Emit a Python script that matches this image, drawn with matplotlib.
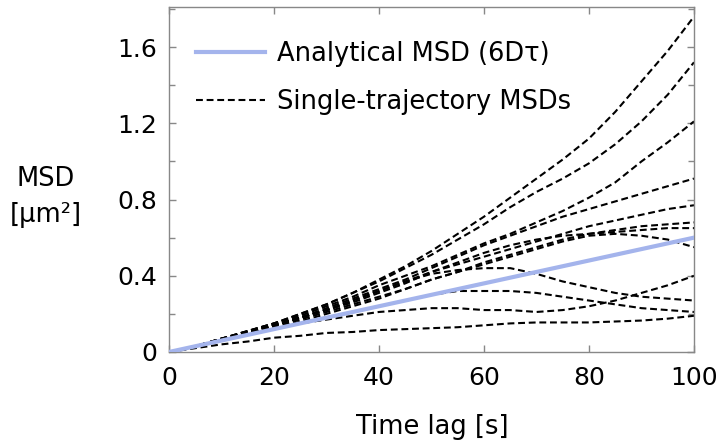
import matplotlib
matplotlib.use("Agg")
import matplotlib.pyplot as plt
from matplotlib.ticker import MultipleLocator

# time lag axis shared by every single-trajectory curve (s)
lag = [0, 5, 10, 15, 20, 25, 30, 35, 40, 45, 50,
       55, 60, 65, 70, 75, 80, 85, 90, 95, 100]

# single-trajectory MSDs (um^2)
msd_a = [0, .03, .07, .11, .15, .20, .25, .31, .38, .45, .53, .62, .71, .81, .91, 1.01, 1.12, 1.26, 1.42, 1.58, 1.76]
msd_b = [0, .03, .07, .11, .15, .20, .25, .31, .37, .44, .51, .59, .67, .76, .84, .91, .99, 1.09, 1.21, 1.35, 1.52]
msd_c = [0, .03, .07, .11, .15, .19, .24, .29, .35, .40, .45, .51, .57, .62, .68, .74, .81, .89, 1.00, 1.10, 1.21]
msd_d = [0, .03, .07, .10, .14, .18, .23, .28, .33, .38, .44, .50, .56, .61, .66, .71, .75, .79, .83, .87, .91]
msd_e = [0, .03, .06, .10, .14, .18, .22, .27, .32, .37, .42, .46, .50, .54, .58, .62, .66, .69, .72, .75, .77]
msd_f = [0, .03, .06, .10, .13, .17, .21, .25, .29, .33, .38, .42, .47, .51, .55, .59, .62, .64, .66, .67, .68]
msd_g = [0, .03, .07, .10, .14, .18, .22, .26, .31, .36, .42, .47, .52, .56, .59, .61, .62, .63, .64, .65, .65]
msd_h = [0, .03, .06, .09, .12, .16, .20, .24, .28, .33, .38, .42, .46, .50, .54, .58, .61, .62, .61, .59, .55]
msd_j = [0, .03, .06, .10, .14, .18, .22, .27, .32, .37, .41, .43, .44, .44, .41, .37, .34, .31, .29, .28, .27]
msd_k = [0, .03, .06, .09, .12, .15, .18, .21, .24, .27, .30, .32, .32, .32, .31, .29, .27, .25, .23, .22, .21]
msd_i = [0, .03, .06, .09, .12, .15, .17, .19, .21, .22, .23, .23, .22, .22, .21, .22, .24, .27, .31, .35, .40]
msd_l = [0, .02, .04, .055, .075, .085, .10, .105, .115, .12, .125, .13, .14, .15, .155, .155, .155, .16, .165, .175, .19]

trajectories = [msd_a, msd_b, msd_c, msd_d, msd_e, msd_f,
                msd_g, msd_h, msd_j, msd_k, msd_i, msd_l]

# analytical 6*D*tau line, end points
tau_analytic = [0, 100]
msd_analytic = [0, 0.6]

xticks = [0, 20, 40, 60, 80, 100]
yticks = [0, 0.4, 0.8, 1.2, 1.6]
ytick_labels = ["0", "0.4", "0.8", "1.2", "1.6"]

plt.rcParams['font.family'] = ['DejaVu Sans']

fig = plt.figure(figsize=(7.2, 4.48), dpi=100)
ax = fig.add_axes([0.2347, 0.2143, 0.7292, 0.7700])

for i, msd in enumerate(trajectories):
    ax.plot(lag, msd, color='black', linewidth=1.5, linestyle=(0, (3.3, 1.8)),
            label='Single-trajectory MSDs' if i == 0 else None, zorder=2)

ax.plot(tau_analytic, msd_analytic, color='#a4b4ec', linewidth=3,
        label='Analytical MSD (6D\u03c4)', zorder=3)

ax.set_xlim(0, 100)
ax.set_ylim(0, 1.81)
ax.set_xticks(xticks)
ax.set_yticks(yticks)
ax.set_yticklabels(ytick_labels)
ax.yaxis.set_minor_locator(MultipleLocator(0.2))

ax.tick_params(which='both', direction='in', top=True, right=True,
               color='#888888', labelsize=18)
ax.tick_params(which='major', length=5, width=1)
ax.tick_params(which='minor', length=4, width=1)
ax.tick_params(axis='x', pad=10)
ax.tick_params(axis='y', pad=8.5)
for side in ax.spines.values():
    side.set_color('#888888')
    side.set_linewidth(1)

fig.text(0.064, 0.56, 'MSD\n[\u00b5m\u00b2]', ha='center', va='center',
         fontsize=18.5, linespacing=1.5)
fig.text(0.6, 0.047, 'Time lag [s]', ha='center', va='center', fontsize=18.5)

handles, labels = ax.get_legend_handles_labels()
ax.legend(handles[::-1], labels[::-1], loc='upper left', frameon=False,
          fontsize=18.5, handlelength=2.7, handletextpad=0.45,
          labelspacing=0.85, borderaxespad=0, borderpad=0.4,
          bbox_to_anchor=(0.032, 0.93))

fig.savefig('out.png', dpi=100)
